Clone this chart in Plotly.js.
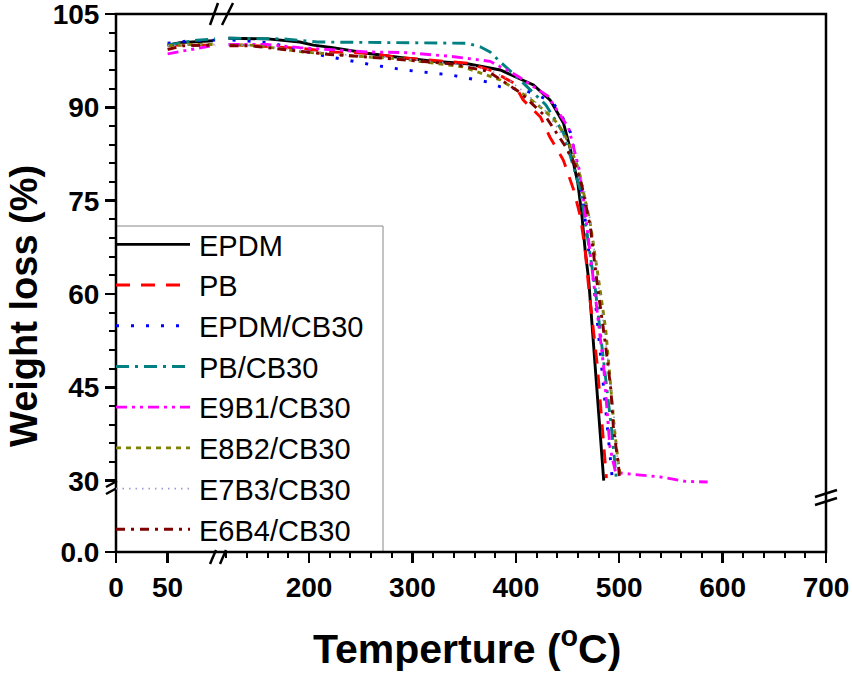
<!DOCTYPE html>
<html><head><meta charset="utf-8">
<script src="https://cdn.plot.ly/plotly-3.0.1.min.js"></script>
<style>html,body{margin:0;padding:0;background:#fff}#chart{width:852px;height:676px}</style>
</head><body><div id="chart"></div>
<script>
// ---- data (temperature in °C, weight in %) ----
const seriesNames = ['EPDM','PB','EPDM/CB30','PB/CB30','E9B1/CB30','E8B2/CB30','E7B3/CB30','E6B4/CB30'];
const xTickLabels1 = [0, 50];
const yTickLabelLow = ['0.0'];

const epdmT = [50,62,94,122,160,191,204,223,256,288,320,353,385,417,433,446,453,460,464,467,470.5,485];
const epdmW = [100.0,100.4,100.7,101.1,101.0,100.5,100.0,99.6,98.7,98.0,97.4,97.0,96.0,93.6,91.2,87.5,83.1,77.8,72.4,67.1,62.2,30.0];

const pbT = [50,94,123,191,223,256,288,320,353,375,398,407,424,433,446,456,462.5,467,470,479,487.6];
const pbW = [100.0,100.0,100.1,99.5,98.9,98.7,98.0,97.6,97.1,96.0,93.9,91.2,88.4,85.2,81.5,76.7,72.4,67.1,61.8,48.2,30.4];

const epdmCbT = [50,72,96,126,162,211,237,262,293,337,372,385,407,421,436,443,453,460,465,470,475,482,488,493.5];
const epdmCbW = [100.3,100.7,100.8,100.8,100.4,98.4,97.6,96.8,96.0,95.2,94.1,93.3,92.8,92.0,90.7,89.1,85.9,80.4,75.1,67.5,62.2,49.9,39.7,29.9];

const pbCbT = [50,78.5,96,122,175,208,256,288,353,366,375,385,404,429,446,462.5,472,477,485,492.5,497.3];
const pbCbW = [100.0,100.8,101.0,101.1,101.0,100.5,100.4,100.4,100.3,99.7,98.9,97.3,94.4,90.4,85.9,76.7,65.8,60.6,49.1,38.4,30.2];

const e9b1T = [50,60,78.5,96,122,159,191,223,256,293,337,375,400,431,451,461,466,478,485,488,491,496.4,503,521,540,564,585.5];
const e9b1W = [98.6,98.9,99.4,100.0,100.1,100.1,99.6,99.2,98.9,98.8,98.2,97.4,95.2,91.8,86.7,80.2,74.6,58.1,48.2,41.8,35.4,31.4,31.2,30.9,30.6,29.9,29.8];

const e8b2T = [50,72,96,123,143,169,194,227,256,288,320,349,385,411,427,440,450,460,465,472,482,487,491,495,499,501];
const e8b2W = [99.9,100.1,100.1,100.0,100.0,99.5,98.9,98.5,98.1,97.8,97.1,96.5,94.4,91.7,89.6,87.5,84.7,80.4,76.7,71.4,60.1,54.2,46.6,38.9,33.0,30.7];

const e7b3T = [50,70,96,122,150,190,230,280,330,370,390,410,430,450,460,466,473,480,487,492,496,499,500];
const e7b3W = [99.9,100.1,100.1,100.1,99.9,99.2,98.5,98.0,97.2,96.3,94.8,92.2,89.2,84.3,80.6,76.9,71.0,61.5,52.5,45.5,38.5,32.5,30.0];

const e6b4T = [50,65,94,123,143,159,175,201,220,272,294,337,373,390,404,429,448,458,464,472,479,487,492,494.4,499.3,500.3];
const e6b4W = [99.3,99.9,100.0,99.9,99.9,99.6,99.3,98.9,98.5,97.9,97.6,97.0,95.8,94.0,92.4,88.5,83.7,80.5,77.3,70.8,61.2,51.5,44.5,38.4,32.5,30.4];

const allT = [epdmT, pbT, epdmCbT, pbCbT, e9b1T, e8b2T, e7b3T, e6b4T];
const allW = [epdmW, pbW, epdmCbW, pbCbW, e9b1W, e8b2W, e7b3W, e6b4W];

// ---- styles ----
const colors = ['#000000','#ff0000','#0000ff','#008080','#ff00ff','#808000','#9a9ad8','#800000'];
const dashes = ['solid','14px,11px','3px,12px','13px,6px,3px,6px','11px,5px,3px,5px,3px,5px','5px,5px','1.5px,5px','9px,6px,3px,6px'];
const widths = [2.9,2.9,2.9,2.9,2.9,2.9,1.7,2.9];

// ---- geometry helpers (pixel -> paper) ----
const W = 852, H = 676, ML = 116, MR = 26, MT = 14, MB = 124;
const PW = W - ML - MR, PH = H - MT - MB;
const px = v => (v - ML) / PW;
const py = v => (H - MB - v) / PH;
const BREAK_T = 100;
const xSplit = px(221), ySplit = py(489);

const traces = [];
seriesNames.forEach((name, i) => {
  const T = allT[i], Wt = allW[i];
  const t1 = [], w1 = [], t2 = [], w2 = [];
  T.forEach((t, k) => { if (t < BREAK_T) { t1.push(t); w1.push(Wt[k]); } else { t2.push(t); w2.push(Wt[k]); } });
  const line = {color: colors[i], dash: dashes[i], width: widths[i]};
  traces.push({x: t1, y: w1, xaxis: 'x', yaxis: 'y', mode: 'lines', line, showlegend: false, hoverinfo: 'skip'});
  traces.push({x: t2, y: w2, xaxis: 'x2', yaxis: 'y', mode: 'lines', line, name, showlegend: true, hoverinfo: 'skip'});
});
// empty placeholders so the lower (broken) y segment gets its own subplots
traces.push({x: [null], y: [null], xaxis: 'x', yaxis: 'y2', mode: 'lines', showlegend: false, hoverinfo: 'skip'});
traces.push({x: [null], y: [null], xaxis: 'x2', yaxis: 'y2', mode: 'lines', showlegend: false, hoverinfo: 'skip'});

const tickFont = {family: 'Arial, Liberation Sans', size: 28, color: '#000', weight: 'bold'};
const common = {showgrid: false, zeroline: false, showline: false, ticks: 'outside', ticklen: 10, tickwidth: 2.5,
  tickcolor: '#000', tickfont: tickFont, ticklabeloverflow: 'allow'};

const seg = (x0, y0, x1, y1) => ({type: 'line', xref: 'paper', yref: 'paper', x0: px(x0), y0: py(y0), x1: px(x1), y1: py(y1), line: {color: '#000', width: 2.5}});

const layout = {
  width: W, height: H,
  margin: {l: ML, r: MR, t: MT, b: MB},
  paper_bgcolor: '#fff', plot_bgcolor: '#fff',
  showlegend: true,
  xaxis: Object.assign({}, common, {domain: [0, xSplit], range: [0, 101.7], anchor: 'y2', tickvals: xTickLabels1}),
  xaxis2: Object.assign({}, common, {domain: [xSplit, 1], range: [114.8, 700], anchor: 'y2', tick0: 0, dtick: 100,
    minor: {dtick: 20, ticks: 'outside', ticklen: 5, tickwidth: 2, tickcolor: '#000'}}),
  yaxis: Object.assign({}, common, {domain: [ySplit, 1], range: [28.67, 105], anchor: 'x', tick0: 0, dtick: 15,
    minor: {dtick: 3, ticks: 'outside', ticklen: 6, tickwidth: 2, tickcolor: '#000'}}),
  yaxis2: Object.assign({}, common, {domain: [0, ySplit], range: [0, 10], anchor: 'x', tickvals: [0], ticktext: yTickLabelLow}),
  legend: {x: 0, y: -3 / PH, xanchor: 'left', yanchor: 'bottom', bgcolor: 'rgba(255,255,255,0)', borderwidth: 0,
    font: {family: 'Arial, Liberation Sans', size: 29, color: '#000'}, itemwidth: 73, tracegroupgap: 0},
  shapes: [
    // legend box
    {type: 'rect', xref: 'paper', yref: 'paper', x0: px(116), y0: py(552), x1: px(383), y1: py(226), line: {color: '#888', width: 1}},
    // frame
    {type: 'rect', xref: 'paper', yref: 'paper', x0: 0, y0: 0, x1: 1, y1: 1, line: {color: '#000', width: 2.5}},
    // top break
    seg(210, 25, 218, 3), seg(222, 25, 233, 3),
    // bottom break
    seg(210, 564, 216, 550), seg(220, 564, 226, 550),
    // left break
    seg(106, 487, 117, 481), seg(106, 494, 117, 488),
    // right break
    seg(815, 497, 837, 490), seg(815, 505, 837, 498)
  ],
  annotations: [
    {text: 'Temperture (<sup>o</sup>C)', xref: 'paper', yref: 'paper', x: px(466.5), y: py(646), showarrow: false,
      xanchor: 'center', yanchor: 'middle', font: {family: 'Arial, Liberation Sans', size: 41, color: '#000', weight: 'bold'}},
    {text: 'Weight loss (%)', xref: 'paper', yref: 'paper', x: px(24), y: py(306), showarrow: false, textangle: -90,
      xanchor: 'center', yanchor: 'middle', font: {family: 'Arial, Liberation Sans', size: 38, color: '#000', weight: 'bold'}}
  ]
};

Plotly.newPlot('chart', traces, layout, {staticPlot: true, displayModeBar: false}).then(() => {
  document.querySelectorAll('.legend .legendlines path').forEach(p => p.setAttribute('d', 'M0,0h74'));
});
</script></body></html>
